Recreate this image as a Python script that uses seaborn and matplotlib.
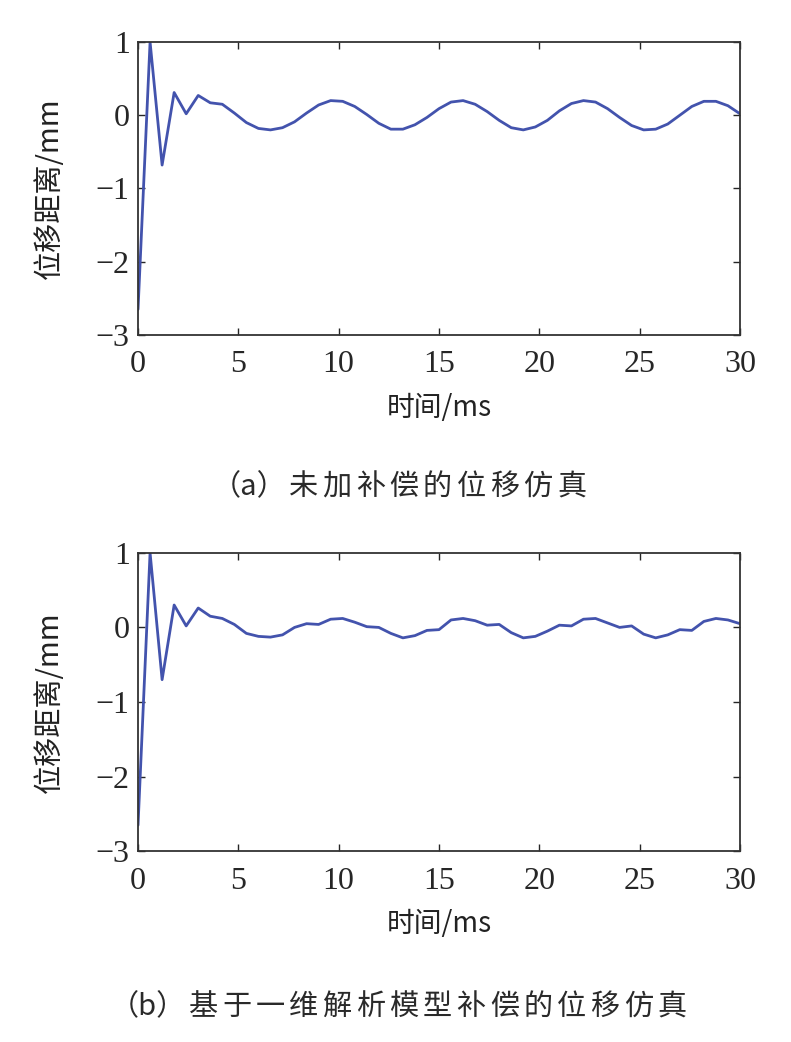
import numpy as np
import pandas as pd
import matplotlib
matplotlib.use("Agg")
import matplotlib.pyplot as plt
import seaborn as sns

# time axis (ms), sampled every 0.6 ms
time_ms = [round(0.6 * i, 1) for i in range(51)]

# (a) displacement without compensation (mm)
disp_a = [-2.65, 1.00, -0.68, 0.31, 0.02, 0.27, 0.17, 0.15, 0.03,
          -0.10, -0.18, -0.20, -0.17, -0.09, 0.03, 0.14, 0.20, 0.19,
          0.12, 0.01, -0.11, -0.19, -0.19, -0.13, -0.03, 0.09, 0.18,
          0.20, 0.15, 0.05, -0.07, -0.17, -0.20, -0.16, -0.07, 0.06,
          0.16, 0.20, 0.18, 0.09, -0.03, -0.14, -0.20, -0.19, -0.12,
          0.00, 0.12, 0.19, 0.19, 0.13, 0.02]

# (b) displacement with 1-D analytic model compensation (mm)
disp_b = [-2.65, 1.00, -0.70, 0.30, 0.02, 0.26, 0.15, 0.12, 0.04,
          -0.08, -0.12, -0.13, -0.10, 0.00, 0.05, 0.04, 0.11, 0.12,
          0.07, 0.01, 0.00, -0.08, -0.14, -0.11, -0.04, -0.03, 0.10,
          0.12, 0.09, 0.03, 0.04, -0.07, -0.14, -0.12, -0.05, 0.03,
          0.02, 0.11, 0.12, 0.06, 0.00, 0.02, -0.09, -0.14, -0.10,
          -0.03, -0.04, 0.08, 0.12, 0.10, 0.05]

x_ticks = [0, 5, 10, 15, 20, 25, 30]
y_ticks = [-3, -2, -1, 0, 1]
cap_prefix = ["（a）", "（b）"]
cap_body = ["未加补偿的位移仿真", "基于一维解析模型补偿的位移仿真"]

sns.set_style("ticks")
plt.rcParams['font.family'] = ['Noto Sans CJK SC', 'DejaVu Sans']
plt.rcParams['axes.unicode_minus'] = False

W, H = 791, 1042
fig = plt.figure(figsize=(W / 100, H / 100), dpi=100)
line_color = "#4353ad"
serif = "Liberation Serif"
cjk = ['Noto Sans CJK SC', 'DejaVu Sans']


def spaced_caption(prefix, body, y_px, pitch_px=33.5, size=21):
    # wide letter-spaced caption, roughly centred on the page
    prefix_w = 75
    total = prefix_w + len(body) * pitch_px
    start = 400 - total / 2
    body_start = start + prefix_w
    yf = 1 - y_px / H
    fig.text(body_start / W, yf, prefix, ha="right", va="center",
             fontsize=size, family=cjk, color="#2a2a2a")
    for i, ch in enumerate(body):
        xc = body_start + pitch_px * i + pitch_px / 2
        fig.text(xc / W, yf, ch, ha="center", va="center",
                 fontsize=size, family=cjk, color="#2a2a2a")


panels = [
    (disp_a, [0.1745, 0.6785, 0.761, 0.2812], 487),
    (disp_b, [0.1745, 0.1830, 0.761, 0.2865], 1007),
]

for i, (vals, rect, cap_y) in enumerate(panels):
    ax = fig.add_axes(rect)
    df = pd.DataFrame({"t": time_ms, "d": vals})
    sns.lineplot(data=df, x="t", y="d", ax=ax, color=line_color, linewidth=2.0)
    ax.set_xlim(0, 30)
    ax.set_ylim(-3, 1)
    ax.set_xticks(x_ticks)
    ax.set_yticks(y_ticks)
    ax.set_xticklabels([str(v) for v in x_ticks], fontfamily=serif, fontsize=23)
    ax.set_yticklabels([("\u2212" + str(-v)) if v < 0 else str(v) for v in y_ticks],
                       fontfamily=serif, fontsize=23)
    ax.tick_params(axis="x", direction="in", length=5, width=1, top=True, pad=11)
    ax.tick_params(axis="y", direction="in", length=5, width=1, right=True, pad=6)
    for s in ax.spines.values():
        s.set_visible(True)
        s.set_linewidth(1.3)
        s.set_color("#333333")
    ax.set_xlabel("时间/ms", fontsize=20, labelpad=10, color="#222222")
    ax.set_ylabel("位移距离/mm", fontsize=21, labelpad=22, color="#222222")
    spaced_caption(cap_prefix[i], cap_body[i], cap_y)

fig.savefig("out.png", dpi=100)
